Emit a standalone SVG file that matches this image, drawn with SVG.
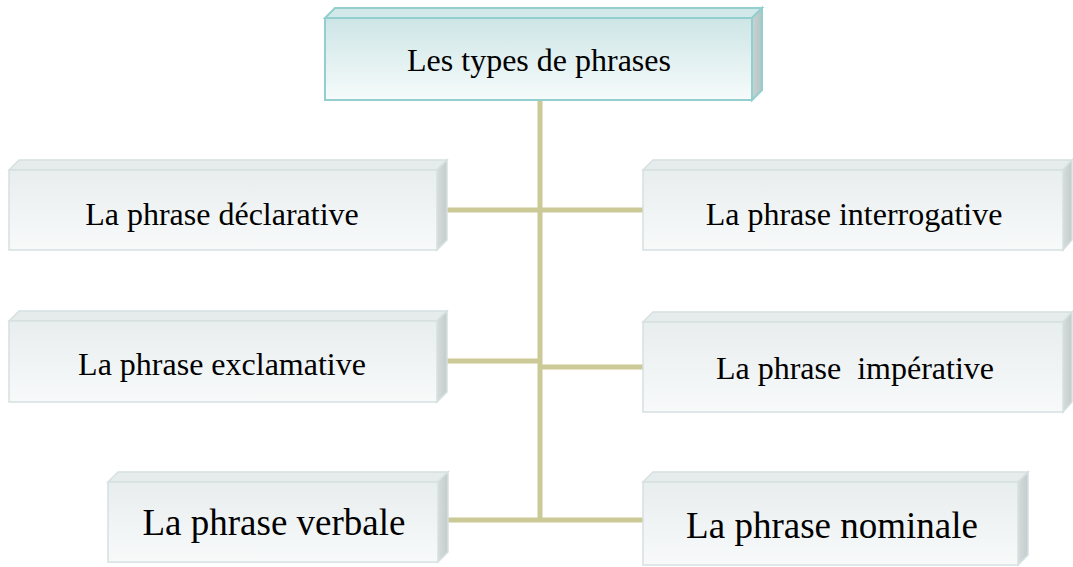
<svg xmlns="http://www.w3.org/2000/svg" width="1073" height="567" viewBox="0 0 1073 567">
<defs>
<linearGradient id="gTop" x1="0" y1="0" x2="0" y2="1"><stop offset="0" stop-color="#cde5e6"/><stop offset="1" stop-color="#f6fbfb"/></linearGradient>
<linearGradient id="gBox" x1="0" y1="0" x2="0" y2="1"><stop offset="0" stop-color="#e8edee"/><stop offset="1" stop-color="#f8fafa"/></linearGradient>
<linearGradient id="gSide" x1="0" y1="0" x2="1" y2="0"><stop offset="0" stop-color="#d6dcdc"/><stop offset="1" stop-color="#c4cbcb"/></linearGradient>
<linearGradient id="gSideT" x1="0" y1="0" x2="1" y2="0"><stop offset="0" stop-color="#c6d3d3"/><stop offset="1" stop-color="#b5c3c3"/></linearGradient>
</defs>
<style>
.front{fill:url(#gBox);stroke:#d6e0e0;stroke-width:1.5}
.bevel{fill:#e6ecec;stroke:#d6e0e0;stroke-width:1.5}
.side{fill:url(#gSide);stroke:#d6e0e0;stroke-width:1.5}
.tfront{fill:url(#gTop);stroke:#93cfcf;stroke-width:2}
.tbevel{fill:#d3e8e8;stroke:#93cfcf;stroke-width:2}
.tside{fill:url(#gSideT);stroke:#93cfcf;stroke-width:2}
.lbl{font-family:"Liberation Serif","Times New Roman",serif;font-size:32px;fill:#000;text-anchor:middle}
.big{font-size:37px}
.conn{stroke:#cbc996;stroke-width:5;fill:none}
</style>
<g id="connectors">
<line class="conn" x1="540" y1="100" x2="540" y2="522"/>
<line class="conn" x1="447" y1="210" x2="643" y2="210"/>
<line class="conn" x1="447" y1="361" x2="540" y2="361"/>
<line class="conn" x1="540" y1="367" x2="643" y2="367"/>
<line class="conn" x1="448" y1="520" x2="643" y2="520"/>
</g>
<g id="root">
<polygon class="tbevel" points="325,18 335,8 762,8 752,18"/>
<polygon class="tside" points="752,18 762,8 762,90 752,100"/>
<rect class="tfront" x="325" y="18" width="427" height="82"/>
<text class="lbl" x="539" y="71" style="font-size:32px">Les types de phrases</text>
</g>
<g id="declarative">
<polygon class="bevel" points="9,170 19,160 447,160 437,170"/>
<polygon class="side" points="437,170 447,160 447,240 437,250"/>
<rect class="front" x="9" y="170" width="428" height="80"/>
<text class="lbl" x="222" y="225">La phrase déclarative</text>
</g>
<g id="interrogative">
<polygon class="bevel" points="643,170 653,160 1072,160 1063,170"/>
<polygon class="side" points="1063,170 1072,160 1072,240 1063,250"/>
<rect class="front" x="643" y="170" width="420" height="80"/>
<text class="lbl" x="854" y="225">La phrase interrogative</text>
</g>
<g id="exclamative">
<polygon class="bevel" points="9,321 19,311 447,311 437,321"/>
<polygon class="side" points="437,321 447,311 447,392 437,402"/>
<rect class="front" x="9" y="321" width="428" height="81"/>
<text class="lbl" x="222" y="375">La phrase exclamative</text>
</g>
<g id="imperative">
<polygon class="bevel" points="643,322 653,312 1072,312 1063,322"/>
<polygon class="side" points="1063,322 1072,312 1072,402 1063,412"/>
<rect class="front" x="643" y="322" width="420" height="90"/>
<text class="lbl" x="855" y="379" xml:space="preserve">La phrase  impérative</text>
</g>
<g id="verbale">
<polygon class="bevel" points="108,482 118,472 448,472 438,482"/>
<polygon class="side" points="438,482 448,472 448,552 438,562"/>
<rect class="front" x="108" y="482" width="330" height="80"/>
<text class="lbl big" x="274" y="535">La phrase verbale</text>
</g>
<g id="nominale">
<polygon class="bevel" points="643,482 653,472 1028,472 1018,482"/>
<polygon class="side" points="1018,482 1028,472 1028,555 1018,565"/>
<rect class="front" x="643" y="482" width="375" height="83"/>
<text class="lbl big" x="832" y="538">La phrase nominale</text>
</g>
</svg>
